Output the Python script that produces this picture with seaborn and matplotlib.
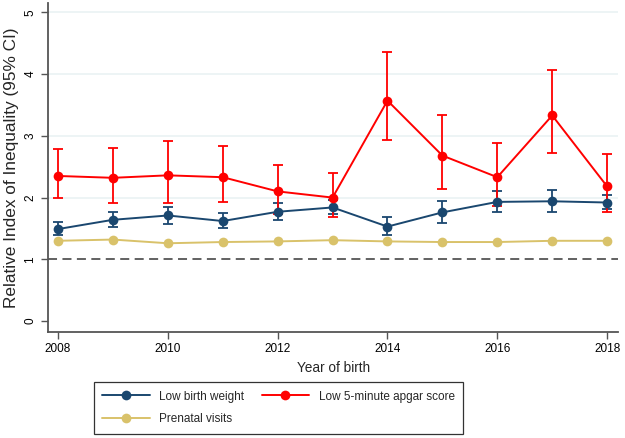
"""
RII by year of birth: three outcomes with 95% CI error bars
"""
import numpy as np
import pandas as pd
import matplotlib
matplotlib.use("Agg")
import matplotlib.pyplot as plt
import seaborn as sns

# ---------------- data ----------------
years = [2008, 2009, 2010, 2011, 2012, 2013, 2014, 2015, 2016, 2017, 2018]

lbw = [1.49, 1.64, 1.71, 1.62, 1.77, 1.84, 1.53, 1.76, 1.93, 1.94, 1.92]
lbw_lo = [1.39, 1.52, 1.57, 1.50, 1.63, 1.73, 1.39, 1.59, 1.76, 1.77, 1.81]
lbw_hi = [1.60, 1.77, 1.85, 1.75, 1.92, 1.96, 1.68, 1.94, 2.10, 2.13, 2.04]

apgar = [2.35, 2.32, 2.36, 2.33, 2.10, 2.00, 3.57, 2.68, 2.33, 3.33, 2.18]
apgar_lo = [1.99, 1.91, 1.91, 1.93, 1.73, 1.68, 2.93, 2.14, 1.87, 2.72, 1.76]
apgar_hi = [2.78, 2.80, 2.91, 2.83, 2.52, 2.40, 4.35, 3.34, 2.89, 4.06, 2.70]

prenatal = [1.30, 1.32, 1.26, 1.28, 1.29, 1.31, 1.29, 1.28, 1.28, 1.30, 1.30]

series_names = ["Low birth weight", "Low 5-minute apgar score", "Prenatal visits"]
colors = ["#1a476f", "#ff0000", "#d9c26a"]

# ---------------- style ----------------
sns.set_theme(style="white")
plt.rcParams["font.family"] = ["Liberation Sans", "DejaVu Sans"]

fig = plt.figure(figsize=(6.25, 4.38), dpi=100)
ax = fig.add_axes([0.077, 0.243, 0.912, 0.75])

# light grid lines (Stata-like)
for g in [2, 3, 4, 5]:
    ax.axhline(g, color="#eaf2f3", linewidth=1.2, zorder=0)
ax.axhline(1, color="#555555", linestyle=(0, (5, 3)), linewidth=1.3, zorder=1)

df = pd.DataFrame({
    "year": years * 3,
    "rii": lbw + apgar + prenatal,
    "outcome": [series_names[0]] * len(years) + [series_names[1]] * len(years)
               + [series_names[2]] * len(years),
})

# error bars
err_sets = [(lbw, lbw_lo, lbw_hi, colors[0]), (apgar, apgar_lo, apgar_hi, colors[1])]
for vals, lo, hi, c in err_sets:
    v = np.array(vals)
    yerr = [v - np.array(lo), np.array(hi) - v]
    ax.errorbar(years, v, yerr=yerr, fmt="none", ecolor=c, elinewidth=1.3,
                capsize=3.6, capthick=1.3, zorder=3)

sns.lineplot(data=df, x="year", y="rii", hue="outcome", hue_order=series_names,
             palette=colors, marker="o", markersize=7, markeredgewidth=0,
             linewidth=1.4, ax=ax, legend=False, zorder=4)

ax.set_xlim(2007.82, 2018.2)
ax.set_ylim(-0.17, 5.15)
ax.set_xticks([2008, 2010, 2012, 2014, 2016, 2018])
ax.set_yticks([0, 1, 2, 3, 4, 5])
ax.tick_params(axis="both", direction="out", length=5, width=1, color="#555555",
               labelsize=8.5, labelcolor="black", bottom=True, left=True)
ax.tick_params(axis="y", labelrotation=90)
for lab in ax.get_yticklabels():
    lab.set_va("center")

for side in ["top", "right"]:
    ax.spines[side].set_visible(False)
for side in ["left", "bottom"]:
    ax.spines[side].set_color("#555555")
    ax.spines[side].set_linewidth(1.3)

ax.set_xlabel("Year of birth", fontsize=9.8, labelpad=4)
ax.set_ylabel("Relative Index of Inequality (95% CI)", fontsize=12.4, labelpad=4)

# legend: two columns, boxed
handles = [plt.Line2D([], [], color=c, marker="o", markersize=7, markeredgewidth=0,
                      linewidth=1.4) for c in colors]
order = [0, 2, 1]
leg = fig.legend([handles[i] for i in order], [series_names[i] for i in order],
                 ncol=2, loc="lower center", bbox_to_anchor=(0.4456, 0.009),
                 borderaxespad=0, fontsize=8.5, frameon=True, fancybox=False,
                 edgecolor="black", handlelength=4.0, handletextpad=0.8,
                 columnspacing=1.5, borderpad=0.75, labelspacing=0.9)
leg.get_frame().set_linewidth(0.9)

plt.savefig("out.png", dpi=100)
plt.close()
